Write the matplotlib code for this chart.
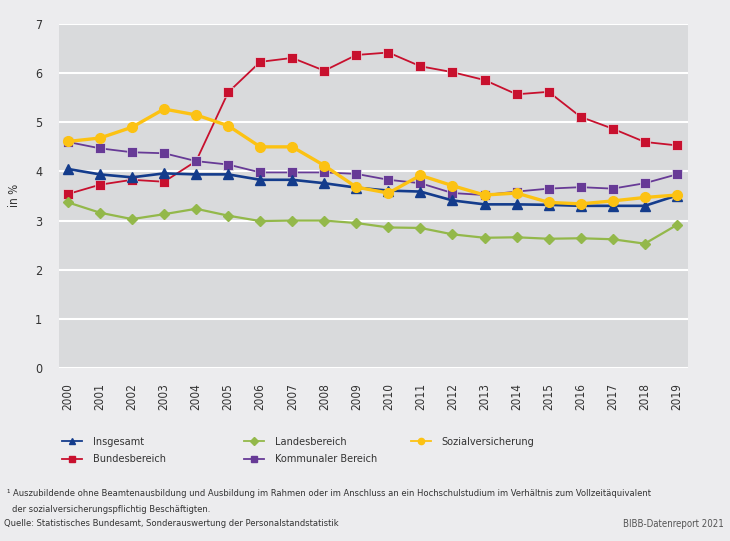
import numpy as np
import matplotlib
matplotlib.use("Agg")
import matplotlib.pyplot as plt
from matplotlib.lines import Line2D

plt.rcParams['font.family'] = ['DejaVu Sans']
plt.rcParams['font.stretch'] = 'condensed'

jahre = list(range(2000, 2020))

insgesamt = [4.05, 3.94, 3.88, 3.96, 3.94, 3.94, 3.83, 3.83, 3.76, 3.67,
             3.61, 3.59, 3.41, 3.33, 3.33, 3.32, 3.30, 3.30, 3.30, 3.51]
bundesbereich = [3.54, 3.73, 3.83, 3.79, 4.21, 5.61, 6.23, 6.31, 6.05, 6.37,
                 6.42, 6.14, 6.02, 5.86, 5.57, 5.62, 5.11, 4.87, 4.60, 4.53]
landesbereich = [3.37, 3.16, 3.03, 3.13, 3.24, 3.10, 2.99, 3.00, 3.00, 2.95,
                 2.86, 2.85, 2.72, 2.65, 2.66, 2.63, 2.64, 2.62, 2.53, 2.91]
kommunal = [4.60, 4.47, 4.39, 4.37, 4.21, 4.14, 3.98, 3.98, 3.98, 3.95,
            3.83, 3.76, 3.56, 3.52, 3.59, 3.65, 3.68, 3.65, 3.76, 3.94]
sozialvers = [4.61, 4.68, 4.90, 5.27, 5.15, 4.93, 4.50, 4.50, 4.12, 3.68,
              3.56, 3.92, 3.71, 3.52, 3.56, 3.37, 3.34, 3.40, 3.47, 3.52]

fig = plt.figure(figsize=(7.3, 5.41), dpi=100)
fig.patch.set_facecolor('#ececee')
ax = fig.add_axes([0.0808, 0.3198, 0.8617, 0.6358])
ax.set_facecolor('#d9dadc')

ax.plot(jahre, bundesbereich, color='#c8102e', lw=1.3, marker='s', ms=6.5,
        mec='#e8e8ea', mew=0.5, label='Bundesbereich', zorder=3)
ax.plot(jahre, landesbereich, color='#93b84a', lw=1.6, marker='D', ms=5,
        mec='#93b84a', label='Landesbereich', zorder=3)
ax.plot(jahre, kommunal, color='#673a96', lw=1.3, marker='s', ms=7,
        mec='#e8e8ea', mew=0.5, label='Kommunaler Bereich', zorder=4)
ax.plot(jahre, insgesamt, color='#143c8c', lw=1.9, marker='^', ms=6.5,
        label='Insgesamt', zorder=4)
ax.plot(jahre, sozialvers, color='#fcc213', lw=2.4, marker='o', ms=7,
        label='Sozialversicherung', zorder=5)

ax.set_xlim(1999.72, 2019.35)
ax.set_ylim(0, 7)
ax.set_yticks(range(0, 8))
ax.set_xticks(jahre)
ax.set_xticklabels([str(j) for j in jahre], rotation=90, fontsize=8.5, color='#333333')
ax.tick_params(axis='y', labelsize=9, colors='#333333', length=0, pad=12)
ax.tick_params(axis='x', length=0, pad=11)
ax.grid(axis='y', color='white', lw=1.5)
ax.set_axisbelow(True)
for s in ax.spines.values():
    s.set_visible(False)
ax.set_ylabel('in %', fontsize=8.5, color='#333333')
ax.yaxis.set_label_coords(-0.06, 0.503)

# Legende in drei Spalten, jeweils einzeln positioniert
handles, labels = ax.get_legend_handles_labels()
spalten = [['Insgesamt', 'Bundesbereich'],
           ['Landesbereich', 'Kommunaler Bereich'],
           ['Sozialversicherung']]
spalten_x = [62 / 730, 244 / 730, 411 / 730]
for namen, x0 in zip(spalten, spalten_x):
    hs = []
    for n in namen:
        hh = handles[labels.index(n)]
        hs.append(Line2D([], [], color=hh.get_color(), lw=1.3, marker=hh.get_marker(),
                         ms=4.5, mec=hh.get_color()))
    fig.legend(hs, namen, loc='upper left', bbox_to_anchor=(x0, 0.193),
               frameon=False, fontsize=7.8, handlelength=1.85, borderpad=0,
               borderaxespad=0, labelspacing=0.72, handletextpad=1.0,
               labelcolor='#333333')

fig.text(0.009, 1 - 493 / 541, '¹ Auszubildende ohne Beamtenausbildung und Ausbildung im Rahmen oder im Anschluss an ein Hochschulstudium im Verhältnis zum Vollzeitäquivalent',
         fontsize=6.75, color='#333333', va='center')
fig.text(0.016, 1 - 509 / 541, 'der sozialversicherungspflichtig Beschäftigten.',
         fontsize=6.75, color='#333333', va='center')
fig.text(0.005, 1 - 524 / 541, 'Quelle: Statistisches Bundesamt, Sonderauswertung der Personalstandstatistik',
         fontsize=6.75, color='#333333', va='center')
fig.text(0.992, 1 - 524 / 541, 'BIBB-Datenreport 2021', fontsize=6.9, color='#555555',
         va='center', ha='right')

fig.savefig('out.png', dpi=100, facecolor=fig.get_facecolor())
